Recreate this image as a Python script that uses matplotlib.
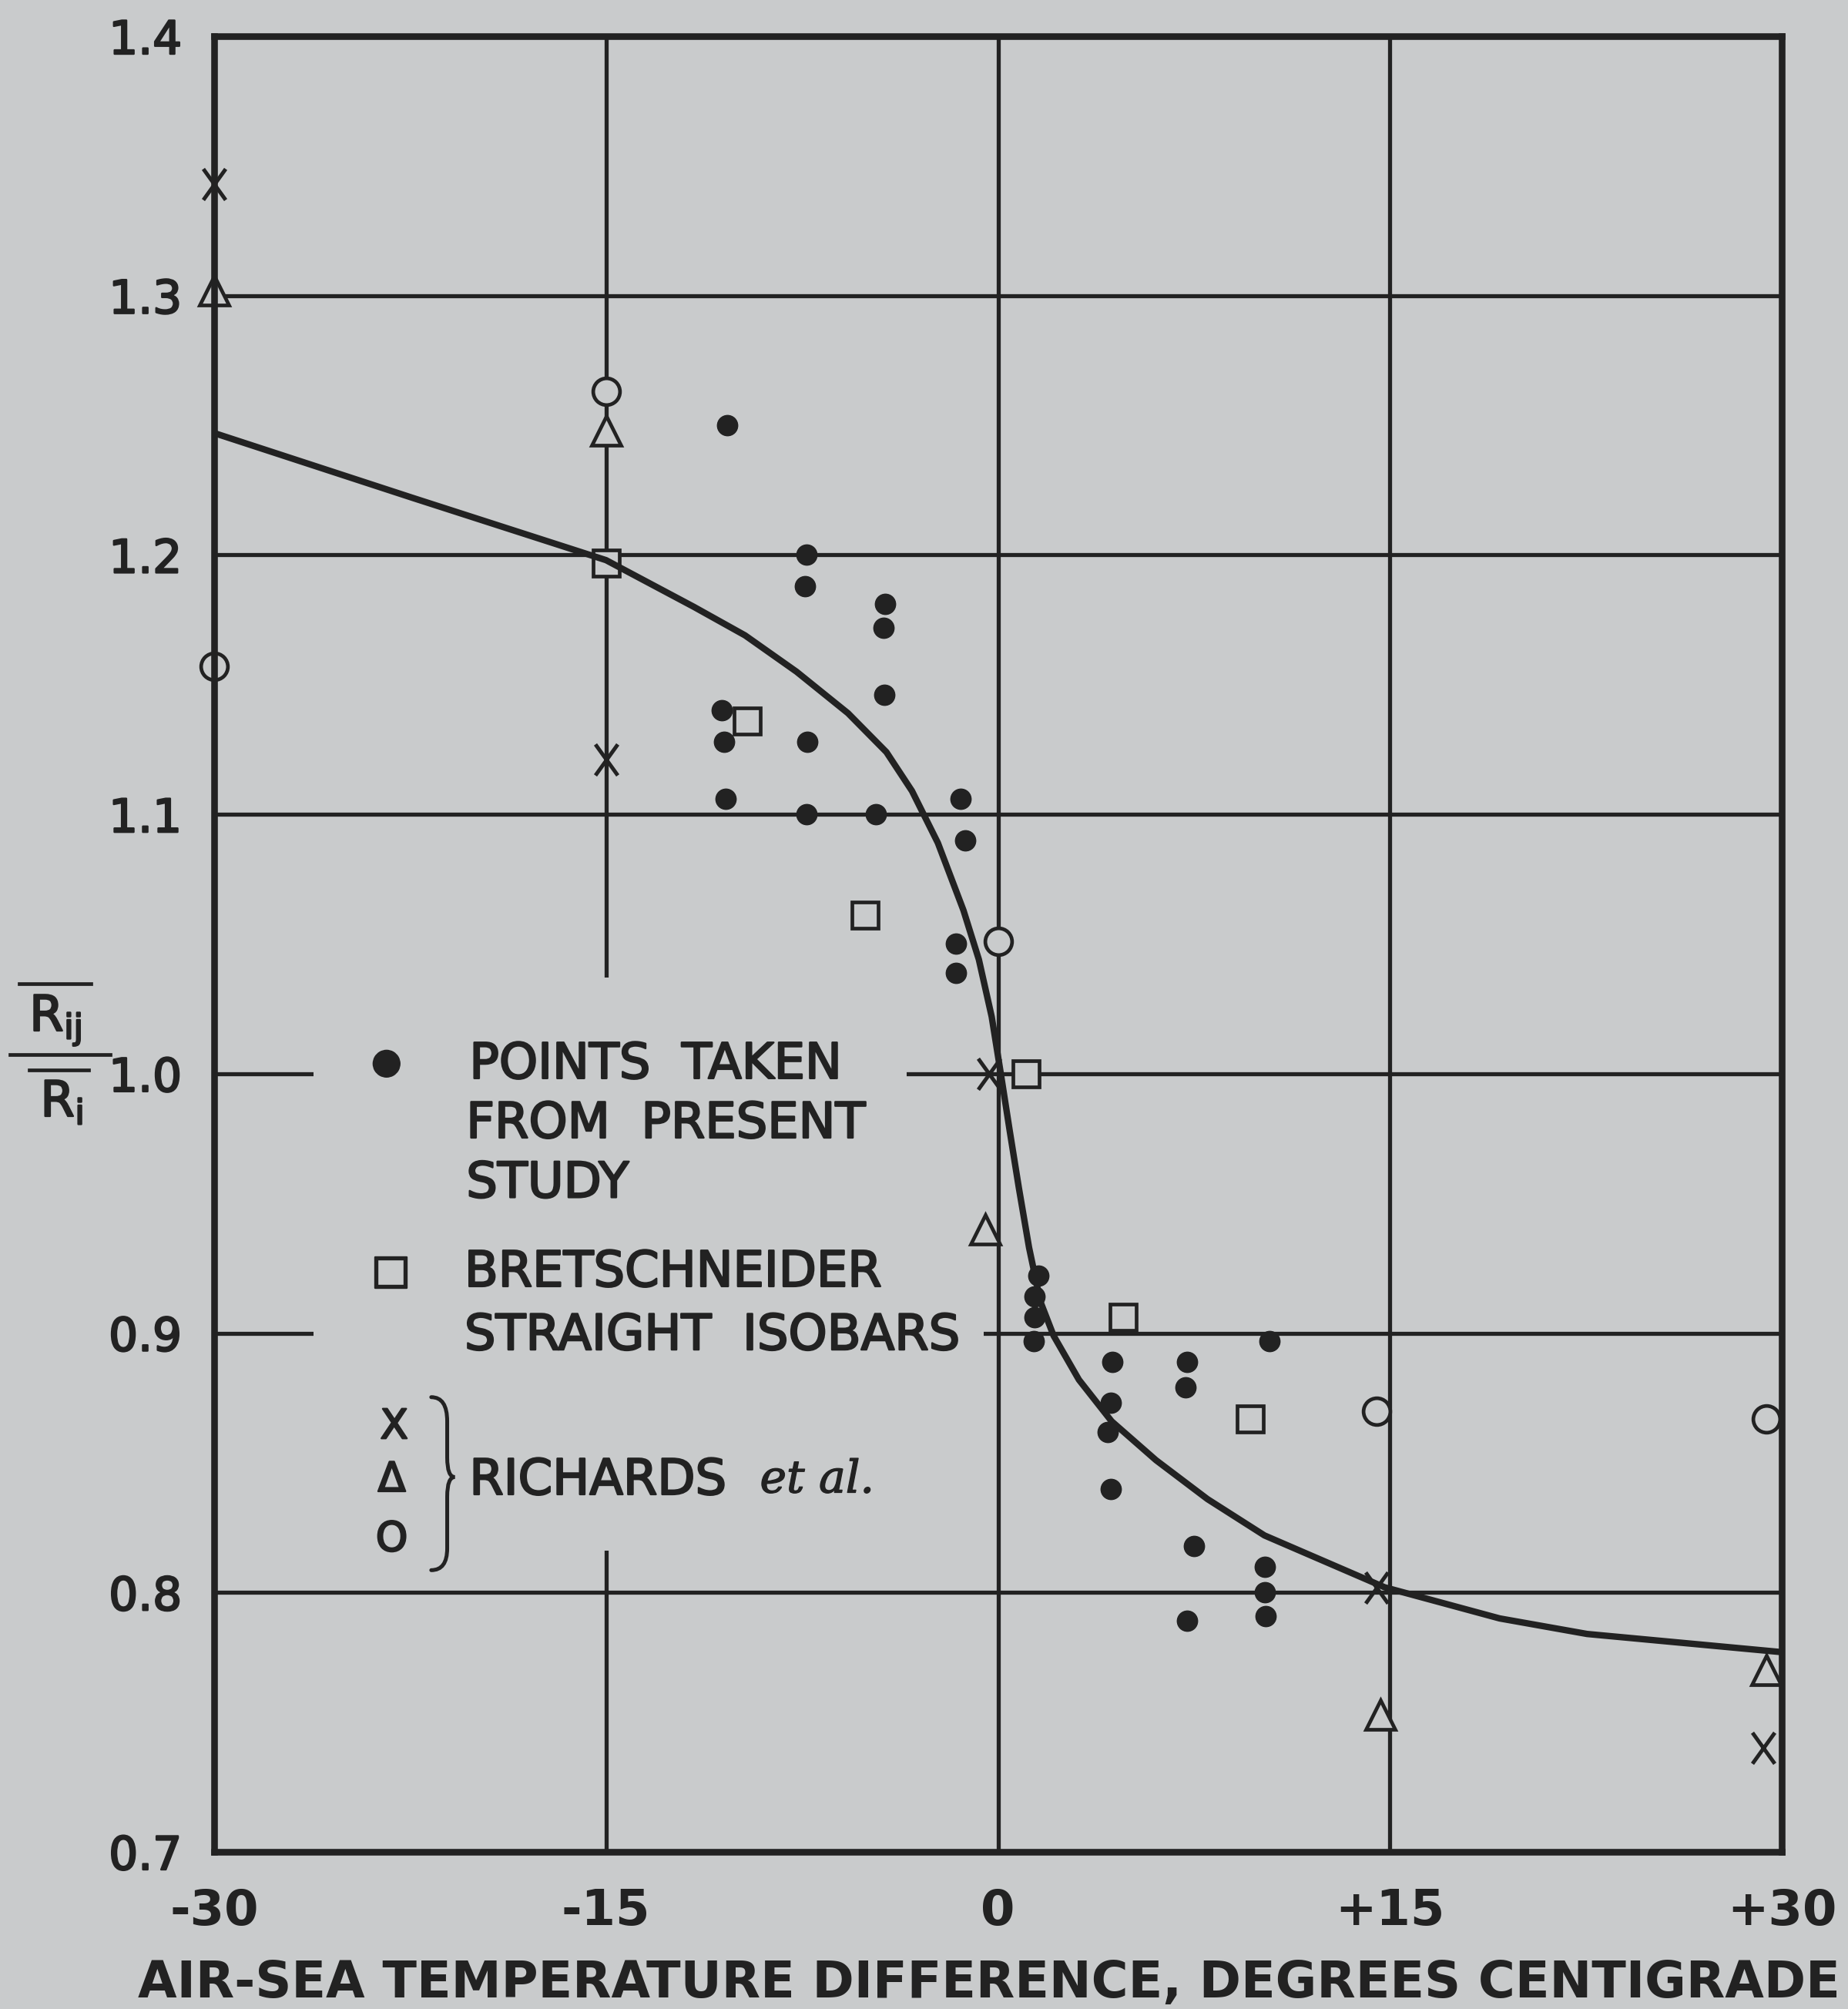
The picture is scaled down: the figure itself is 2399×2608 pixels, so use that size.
import matplotlib
matplotlib.use("Agg")
import matplotlib.pyplot as plt
import matplotlib.patheffects as pe
from matplotlib.path import Path
from matplotlib.patches import PathPatch, Rectangle
from matplotlib.lines import Line2D

plt.rcParams['font.family'] = ['DejaVu Sans']
plt.rcParams['mathtext.default'] = 'regular'

BG = '#c9cbcc'
INK = '#222222'
BOLDEN = [pe.withStroke(linewidth=1.7, foreground=INK)]

# ---------------- data ----------------
# points taken from present study (filled dots)
study_x = [-10.37, -7.34, -7.39, -4.31, -4.37, -4.34, -10.58, -10.48, -7.29, -10.43,
           -7.34, -4.66, -1.44, -1.24, -1.60, -1.62, 1.55, 1.40, 1.40, 1.36,
           4.39, 4.31, 4.21, 4.31, 7.24, 7.19, 10.40, 7.50, 7.25, 10.22, 10.22, 10.25]
study_y = [1.250, 1.200, 1.188, 1.181, 1.172, 1.146, 1.140, 1.128, 1.128, 1.106,
           1.100, 1.100, 1.106, 1.090, 1.050, 1.039, 0.922, 0.914, 0.906, 0.897,
           0.889, 0.873, 0.862, 0.840, 0.889, 0.879, 0.897, 0.818, 0.789, 0.810, 0.800, 0.791]

# Bretschneider, straight isobars (open squares)
bret_x = [-15.0, -9.60, -5.09, 1.09, 4.80, 9.65]
bret_y = [1.197, 1.136, 1.061, 1.000, 0.906, 0.867]

# Richards et al. (three symbols)
rich_x_x = [-30.0, -15.0, -0.35, 14.5, 29.3]
rich_x_y = [1.343, 1.121, 1.000, 0.802, 0.740]
rich_tri_x = [-30.0, -15.0, -0.5, 14.65, 29.4]
rich_tri_y = [1.302, 1.248, 0.940, 0.753, 0.770]
rich_o_x = [-30.0, -15.0, 0.0, 14.5, 29.4]
rich_o_y = [1.157, 1.263, 1.051, 0.870, 0.867]

# fitted curve
curve_x = [-30.0, -22.4, -15.0, -11.64, -9.68, -7.71, -5.74, -4.27, -3.29, -2.30,
           -1.32, -0.73, -0.24, 0.11, 0.45, 0.80, 1.19, 1.63, 2.13, 3.10,
           4.35, 6.05, 8.02, 10.2, 14.8, 19.2, 22.55, 30.0]
curve_y = [1.247, 1.222, 1.198, 1.180, 1.169, 1.155, 1.139, 1.124, 1.109, 1.089,
           1.063, 1.044, 1.022, 1.000, 0.978, 0.956, 0.933, 0.912, 0.899, 0.882,
           0.866, 0.851, 0.836, 0.822, 0.802, 0.790, 0.784, 0.777]

x_ticks = [-30, -15, 0, 15, 30]
x_tick_labels = ['-30', '-15', '0', '+15', '+30']
y_ticks = [0.7, 0.8, 0.9, 1.0, 1.1, 1.2, 1.3, 1.4]
y_tick_labels = ['0.7', '0.8', '0.9', '1.0', '1.1', '1.2', '1.3', '1.4']
x_label = 'AIR-SEA TEMPERATURE DIFFERENCE, DEGREES CENTIGRADE'

# ---------------- figure ----------------
W, H = 2399, 2608
fig = plt.figure(figsize=(W / 100, H / 100), dpi=100, facecolor=BG)
ax = fig.add_axes([278 / W, 1 - 2404 / H, 2035 / W, 2357 / H], facecolor=BG)

def fx(px):
    return px / W

def fy(py):
    return 1 - py / H

ax.set_xlim(-30, 30)
ax.set_ylim(0.7, 1.4)
ax.set_xticks(x_ticks)
ax.set_xticklabels(x_tick_labels, fontweight='bold')
ax.set_yticks(y_ticks)
ax.set_yticklabels(y_tick_labels)
ax.tick_params(axis='both', length=0, colors=INK)
ax.tick_params(axis='x', pad=33, labelsize=46)
ax.tick_params(axis='y', pad=30, labelsize=43)
for lab in ax.get_yticklabels():
    lab.set_path_effects(BOLDEN)
ax.set_axisbelow(True)
ax.grid(True, color=INK, linewidth=3.8)
for s in ax.spines.values():
    s.set_linewidth(6.2)
    s.set_color(INK)
    s.set_zorder(6)

# masks behind the legend text (gridlines are interrupted there)
ax.add_patch(Rectangle((-26.2, 0.816), 22.7, 0.221, facecolor=BG,
                       edgecolor='none', zorder=1))
ax.add_patch(Rectangle((-3.5, 0.893), 2.95, 0.014, facecolor=BG,
                       edgecolor='none', zorder=1))

# ---------------- marks ----------------
ax.plot(study_x, study_y, linestyle='none', marker='o', ms=19, color=INK,
        zorder=4, clip_on=False)
ax.plot(bret_x, bret_y, linestyle='none', marker='s', ms=24, mfc=BG, mec=INK,
        mew=3.4, zorder=4, clip_on=False)
x_marker = Path([(-0.72, -1), (0.72, 1), (-0.72, 1), (0.72, -1)],
                [Path.MOVETO, Path.LINETO, Path.MOVETO, Path.LINETO])
ax.plot(rich_x_x, rich_x_y, linestyle='none', marker=x_marker, ms=29,
        mfc='none', mec=INK, mew=3.6, zorder=4, clip_on=False)
ax.plot(rich_tri_x, rich_tri_y, linestyle='none', marker='^', ms=27, mfc=BG,
        mec=INK, mew=3.4, zorder=4, clip_on=False)
ax.plot(rich_o_x, rich_o_y, linestyle='none', marker='o', ms=25, mfc=BG,
        mec=INK, mew=3.4, zorder=4, clip_on=False)
ax.plot(curve_x, curve_y, color=INK, lw=6, solid_joinstyle='round',
        solid_capstyle='round', zorder=5)

# ---------------- legend (hand lettered in the original) ----------------
tk = dict(fontsize=46, color=INK, ha='left', va='center_baseline', zorder=7,
          path_effects=BOLDEN)
sk = dict(color=INK, ha='center', va='center_baseline', zorder=7,
          path_effects=BOLDEN)
ax.text(-23.40, 1.0055, '\u25CF', fontsize=32, **sk)
ax.text(-20.23, 1.0055, 'POINTS  TAKEN', **tk)
ax.text(-20.35, 0.9826, 'FROM  PRESENT', **tk)
ax.text(-20.35, 0.9596, 'STUDY', **tk)
ax.text(-23.23, 0.9253, '\u25A1', fontsize=38, **sk)
ax.text(-20.42, 0.9253, 'BRETSCHNEIDER', **tk)
ax.text(-20.42, 0.9009, 'STRAIGHT  ISOBARS', **tk)
ax.text(-23.11, 0.8655, 'X', fontsize=38, **sk)
ax.text(-23.20, 0.8451, '\u0394', fontsize=38, **sk)
ax.text(-23.20, 0.8221, 'O', fontsize=38, **sk)
ax.text(-20.23, 0.8451, 'RICHARDS', **tk)
ax.text(-9.11, 0.8451, 'et al.', fontsize=42, color=INK, ha='left',
        va='center_baseline', family='DejaVu Serif', style='italic', zorder=7,
        path_effects=[pe.withStroke(linewidth=1.0, foreground=INK)])

brace = Path([(-21.69, 0.8753), (-21.08, 0.8753), (-21.08, 0.8660),
              (-21.08, 0.8520), (-21.08, 0.8445), (-20.79, 0.8445),
              (-21.08, 0.8445), (-21.08, 0.8370), (-21.08, 0.8170),
              (-21.08, 0.8086), (-21.69, 0.8086)],
             [Path.MOVETO, Path.CURVE3, Path.CURVE3, Path.LINETO, Path.CURVE3,
              Path.CURVE3, Path.CURVE3, Path.CURVE3, Path.LINETO, Path.CURVE3,
              Path.CURVE3])
ax.add_patch(PathPatch(brace, facecolor='none', edgecolor=INK, lw=3.6,
                       zorder=7, clip_on=False, capstyle='round'))

# ---------------- y label: overlined Rij / Ri ----------------
fig.text(fx(72), fy(1338), r'$R_{ij}$', ha='center', va='baseline',
         fontsize=46, color=INK, path_effects=BOLDEN)
fig.text(fx(80), fy(1449), r'$R_i$', ha='center', va='baseline',
         fontsize=46, color=INK, path_effects=BOLDEN)
for (x0, x1, yy) in [(25, 118, 1277), (13, 143, 1369), (38, 115, 1389)]:
    fig.add_artist(Line2D([fx(x0), fx(x1)], [fy(yy), fy(yy)], lw=3.4,
                          color=INK, transform=fig.transFigure))

# ---------------- x label ----------------
xl = ax.set_xlabel(x_label, fontsize=47, fontweight='bold', color=INK,
                   va='center', ha='center')
ax.xaxis.set_label_coords(0.4943, -0.0726)
fig.canvas.draw()
w = xl.get_window_extent(fig.canvas.get_renderer()).width
xl.set_fontsize(47 * 2212 / w)

fig.savefig('out.png', dpi=100, facecolor=BG)
